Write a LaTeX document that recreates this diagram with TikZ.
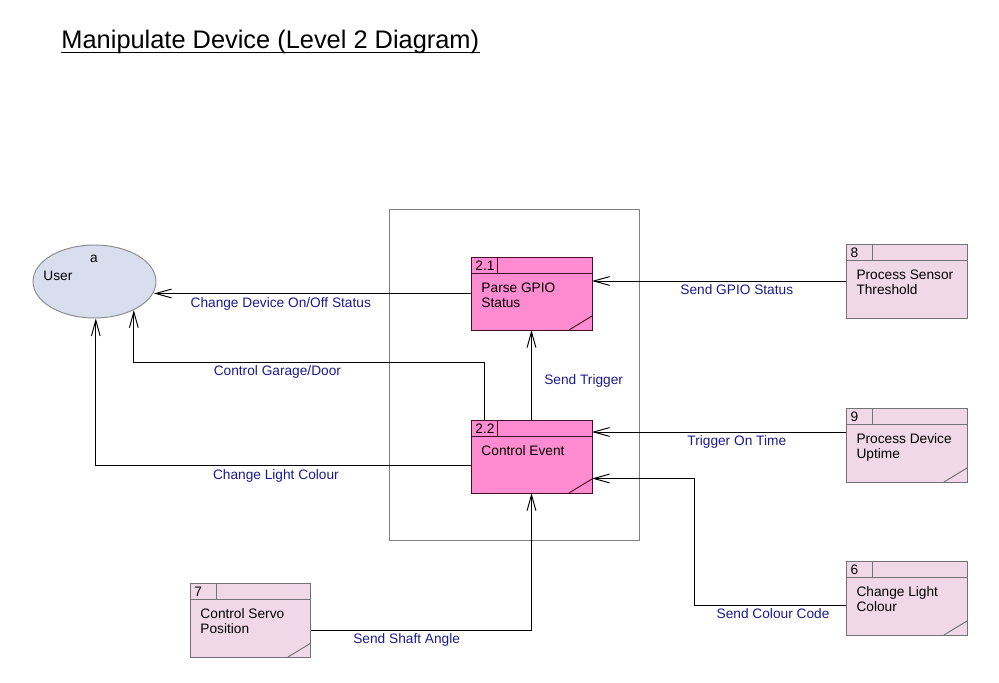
\documentclass[tikz,border=0pt]{standalone}
\usepackage{fontspec}
\setmainfont{Liberation Sans}
\usepackage{tikz}
\usetikzlibrary{arrows.meta,calc,shapes.geometric}
\definecolor{hotpink}{RGB}{255,140,208}
\definecolor{palepink}{RGB}{240,216,232}
\definecolor{userblue}{RGB}{216,222,238}
\definecolor{flowblue}{RGB}{26,26,140}
\definecolor{hotedge}{RGB}{72,16,40}
\newcommand{\procbox}[6]{%
  \node[#2, anchor=north west] (#1) at (#3,#4) {};
  \draw[#2 line] (#3,#4+16) -- (#3+121,#4+16) (#3+26,#4) -- (#3+26,#4+16);
  \node[boxtext, anchor=base west] (#1n) at (#3+4,#4+13) {#5};
  \node[boxtext, anchor=north west] (#1t) at (#3+10,#4+25.5) {#6};
}
\newcommand{\dogear}[2]{\draw[#2 line] ($(#1.south east)+(-23,0)$) -- ($(#1.south east)+(0,-14)$);}

\begin{document}
\begin{tikzpicture}[x=0.02cm, y=-0.02cm, line width=0.55pt,
    font=\fontsize{7.8pt}{8.5pt}\selectfont,
    hotbox/.style={draw=hotedge, fill=hotpink, minimum width=2.42cm, minimum height=1.46cm, inner sep=0pt, outer sep=0pt},
    hotbox line/.style={draw=hotedge},
    coolbox/.style={draw=black!55, fill=palepink, minimum width=2.42cm, minimum height=1.48cm, inner sep=0pt, outer sep=0pt},
    coolbox line/.style={draw=black!55},
    boxtext/.style={inner sep=0pt, align=left},
    flow/.style={-{Straight Barb[length=9pt,width=5pt]}},
    lbl/.style={text=flowblue, inner sep=2pt}]
        \useasboundingbox (0,0) rectangle (999,682);

        \node[anchor=base west, inner sep=0pt, font=\fontsize{14.45pt}{17pt}\selectfont] (Title) at (61,49)
            {Manipulate Device (Level 2 Diagram)};
        \draw[line width=0.9pt] ($(Title.base west)+(0,3.5)$) -- ($(Title.base east)+(0,3.5)$);

        \draw[black!50] (389,209) rectangle (639,540);

        \node[ellipse, draw=black!45, fill=userblue, minimum width=2.46cm, minimum height=1.46cm, inner sep=0pt] (User) at (94.5,281.5) {};
        \node[boxtext] (Usera) at (94,259) {a};
        \node[boxtext, anchor=base west] (Usert) at (43,280) {User};

        \procbox{P21}{hotbox}{471}{257}{2.1}{Parse GPIO\\Status}
        \procbox{P22}{hotbox}{471}{420}{2.2}{Control Event}
        \procbox{P8}{coolbox}{846}{244}{8}{Process Sensor\\Threshold}
        \procbox{P9}{coolbox}{846}{408}{9}{Process Device\\Uptime}
        \procbox{P6}{coolbox}{846}{561}{6}{Change Light\\Colour}
        \procbox{P7}{coolbox}{190}{583}{7}{Control Servo\\Position}
        \dogear{P21}{hotbox}
        \dogear{P22}{hotbox}
        \dogear{P9}{coolbox}
        \dogear{P6}{coolbox}
        \dogear{P7}{coolbox}

        \draw[flow] (P8.west) -- node[lbl, below, pos=0.43]{Send GPIO Status} (P8.west -| P21.east);
        \draw[flow] (P21.west) -- node[lbl, below, pos=0.6]{Change Device On/Off Status} (P21.west -| User.-10);
        \draw[flow] ($(P22.north west)+(13,0)$) |- node[lbl, below, pos=0.795]{Control Garage/Door} (User.-36 |- 0,362) -- (User.-36);
        \draw[flow] ($(P22.west)+(0,9)$) -| node[lbl, below, pos=0.26]{Change Light Colour} (User.-88);
        \draw[flow] (P22.north) -- node[lbl, right, pos=0.43, xshift=5pt]{Send Trigger} (P22.north |- P21.south);
        \draw[flow] ($(P9.west)+(0,-13)$) coordinate (T9) -- node[lbl, below, pos=0.43]{Trigger On Time} (T9 -| P22.east);
        \draw[flow] ($(P6.west)+(0,7)$) -| node[lbl, below, pos=0.24]{Send Colour Code} ($(P22.east)+(102,22)$) -- ($(P22.east)+(0,22)$);
        \draw[flow] ($(P7.east)+(0,10)$) -| node[lbl, below, pos=0.217]{Send Shaft Angle} (P22.south);
      \end{tikzpicture}
\end{document}
